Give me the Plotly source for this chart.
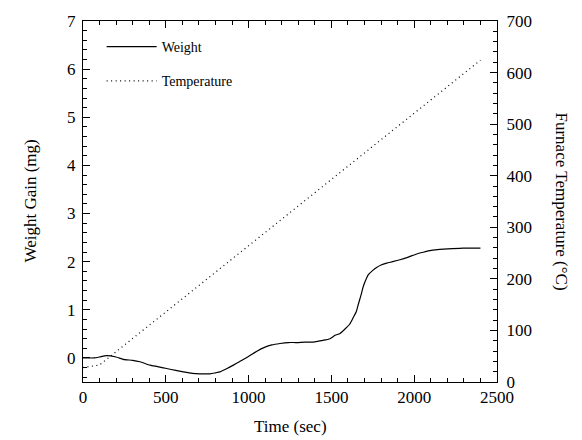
import plotly.graph_objects as go

# Weight gain data (time in s, weight in mg)
weight_time = [0, 70, 100, 143, 200, 243, 300, 344, 405, 450, 505, 560, 606, 660, 706, 767, 800, 827, 870, 908,
               960, 1008, 1050, 1089, 1140, 1190, 1240, 1290, 1340, 1391, 1440, 1492, 1522, 1552, 1582, 1610,
               1632, 1650, 1663, 1680, 1693, 1710, 1723, 1750, 1773, 1800, 1834, 1870, 1914, 1960, 2015,
               2060, 2095, 2140, 2176, 2230, 2296, 2350, 2400]
weight_mg = [0.0, 0.0, 0.02, 0.05, 0.02, -0.03, -0.05, -0.08, -0.15, -0.18, -0.22, -0.26, -0.29, -0.32, -0.33,
             -0.33, -0.31, -0.29, -0.22, -0.15, -0.05, 0.05, 0.14, 0.21, 0.27, 0.30, 0.32, 0.32, 0.33, 0.33,
             0.36, 0.40, 0.47, 0.51, 0.60, 0.70, 0.84, 0.96, 1.12, 1.32, 1.49, 1.64, 1.73, 1.82, 1.88, 1.93,
             1.97, 2.00, 2.04, 2.09, 2.16, 2.20, 2.23, 2.25, 2.26, 2.27, 2.28, 2.28, 2.28]

# Furnace temperature (time in s, temperature in °C)
temp_time = [0, 100, 2400]
temp_c = [28, 33, 624]

font_family = "Liberation Serif"

fig = go.Figure()
fig.add_trace(go.Scatter(x=weight_time, y=weight_mg, mode="lines", name="Weight", legendgroup="w",
                         line=dict(color="black", width=1.2, shape="spline", smoothing=0.6)))
fig.add_trace(go.Scatter(x=temp_time, y=temp_c, mode="lines", name="Temperature", yaxis="y2",
                         legendgroup="t",
                         line=dict(color="black", width=1.2, dash="1px,3.5px")))

axis_common = dict(showline=True, linecolor="black", linewidth=1, ticks="inside", tickcolor="black",
                   ticklen=7, tickwidth=1, showgrid=False, zeroline=False,
                   tickfont=dict(family=font_family, size=17, color="black"))

fig.update_layout(
    width=582, height=440,
    margin=dict(l=83, r=85, t=17, b=58),
    paper_bgcolor="white", plot_bgcolor="white",
    font=dict(family=font_family, color="black"),
    showlegend=True,
    legend=dict(x=0.045, y=0.972, xanchor="left", yanchor="top", bgcolor="rgba(0,0,0,0)",
                font=dict(family=font_family, size=14, color="black"), itemwidth=50,
                tracegroupgap=13),
    xaxis=dict(range=[0, 2500], tickvals=[0, 500, 1000, 1500, 2000, 2500], mirror="ticks",
               minor=dict(dtick=100, ticks="inside", ticklen=4, tickcolor="black"),
               **axis_common),
    yaxis=dict(range=[-0.5, 7], dtick=1, tick0=0, ticklabelstandoff=3,
               minor=dict(dtick=0.2, tick0=0, ticks="inside", ticklen=4, tickcolor="black"),
               **axis_common),
    yaxis2=dict(range=[0, 700], dtick=100, overlaying="y", side="right", ticklabelstandoff=5,
                minor=dict(dtick=20, ticks="inside", ticklen=4, tickcolor="black"),
                **axis_common),
    annotations=[
        dict(text="Time (sec)", xref="paper", yref="paper", x=0.5, y=-0.123, xanchor="center",
             yanchor="middle", showarrow=False, font=dict(family=font_family, size=17)),
        dict(text="Weight Gain (mg)", xref="paper", yref="paper", x=-0.128, y=0.5, textangle=-90,
             xanchor="center", yanchor="middle", showarrow=False, font=dict(family=font_family, size=17)),
        dict(text="Furnace Temperature (°C)", xref="paper", yref="paper", x=1.157, y=0.5, textangle=90,
             xanchor="center", yanchor="middle", showarrow=False, font=dict(family=font_family, size=17)),
    ],
)

fig.write_html("out.html", config={"displayModeBar": False},
               post_script="document.body.style.margin='0';document.body.style.overflow='hidden';")
